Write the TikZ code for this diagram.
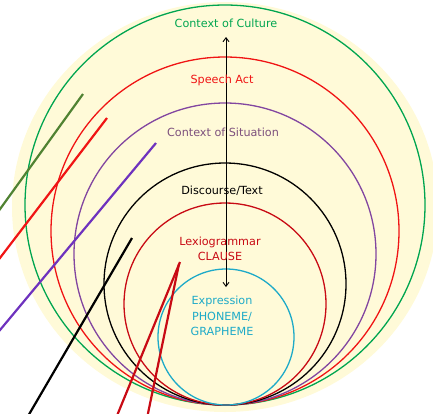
\documentclass[tikz,border=0pt]{standalone}
\usepackage{fontspec}
\setmainfont{DejaVu Sans}
\usetikzlibrary{arrows.meta}
\definecolor{cream}{RGB}{255,250,216}
\definecolor{cgreen}{RGB}{0,165,80}
\definecolor{cred}{RGB}{240,20,20}
\definecolor{cpurple}{RGB}{130,70,160}
\definecolor{cdarkred}{RGB}{200,10,20}
\definecolor{ccyan}{RGB}{30,170,200}
\definecolor{tpurple}{RGB}{125,80,125}
\definecolor{colive}{RGB}{80,130,50}
\definecolor{lpurple}{RGB}{110,50,190}
\tikzset{
  ring/.style={line width=1.3bp},
  pointer/.style={line width=2.2bp},
  lbl/.style={font=\fontsize{11.2bp}{15.5bp}\selectfont, inner sep=0pt, align=center},
}
\begin{document}
\begin{tikzpicture}[x=1bp,y=-1bp]
\useasboundingbox (0,0) rectangle (433,413);
\clip (0,0) rectangle (433,413);
\fill[cream] (225,207) ellipse [x radius=213, y radius=205];
\draw[ring, cgreen] (225,205) circle [radius=200];
\draw[ring, cred] (225,231) circle [radius=174];
\draw[ring, cpurple] (225,254) circle [radius=151];
\draw[ring, black] (225,284) circle [radius=121];
\draw[ring, cdarkred] (225,304) circle [radius=101];
\draw[ring, ccyan] (226,337) circle [radius=68];
\coordinate (atop) at (226,37);
\coordinate (abot) at (226,287);
\draw[line width=0.9bp, {Straight Barb[length=4bp,width=6bp]}-{Straight Barb[length=4bp,width=6bp]}] (atop) -- (abot);
\node[lbl, text=cgreen] (culture) at (226,23) {Context of Culture};
\node[lbl, text=cred] (speech) at (222,80) {Speech Act};
\node[lbl, text=tpurple] (situation) at (223,132) {Context of Situation};
\node[lbl, text=black] (discourse) at (222,191) {Discourse/Text};
\node[lbl, text=cdarkred] (lexis) at (220,249) {Lexiogrammar\\CLAUSE};
\node[lbl, text=ccyan] (expr) at (222,316) {Expression\\PHONEME/\\GRAPHEME};
\coordinate (g1) at (83,94);   \coordinate (g2) at (-10,223);
\coordinate (r1) at (107,118); \coordinate (r2) at (-10,271);
\coordinate (p1) at (156,143); \coordinate (p2) at (-10,342);
\coordinate (k1) at (132,238); \coordinate (k2) at (24,423);
\coordinate (d1) at (180,262); \coordinate (d2) at (114,423);
\coordinate (e1) at (179,264); \coordinate (e2) at (146,423);
\draw[pointer, colive] (g1) -- (g2);
\draw[pointer, cred] (r1) -- (r2);
\draw[pointer, lpurple] (p1) -- (p2);
\draw[pointer, black] (k1) -- (k2);
\draw[pointer, cdarkred] (d1) -- (d2);
\draw[pointer, cdarkred] (e1) -- (e2);
\end{tikzpicture}
\end{document}
